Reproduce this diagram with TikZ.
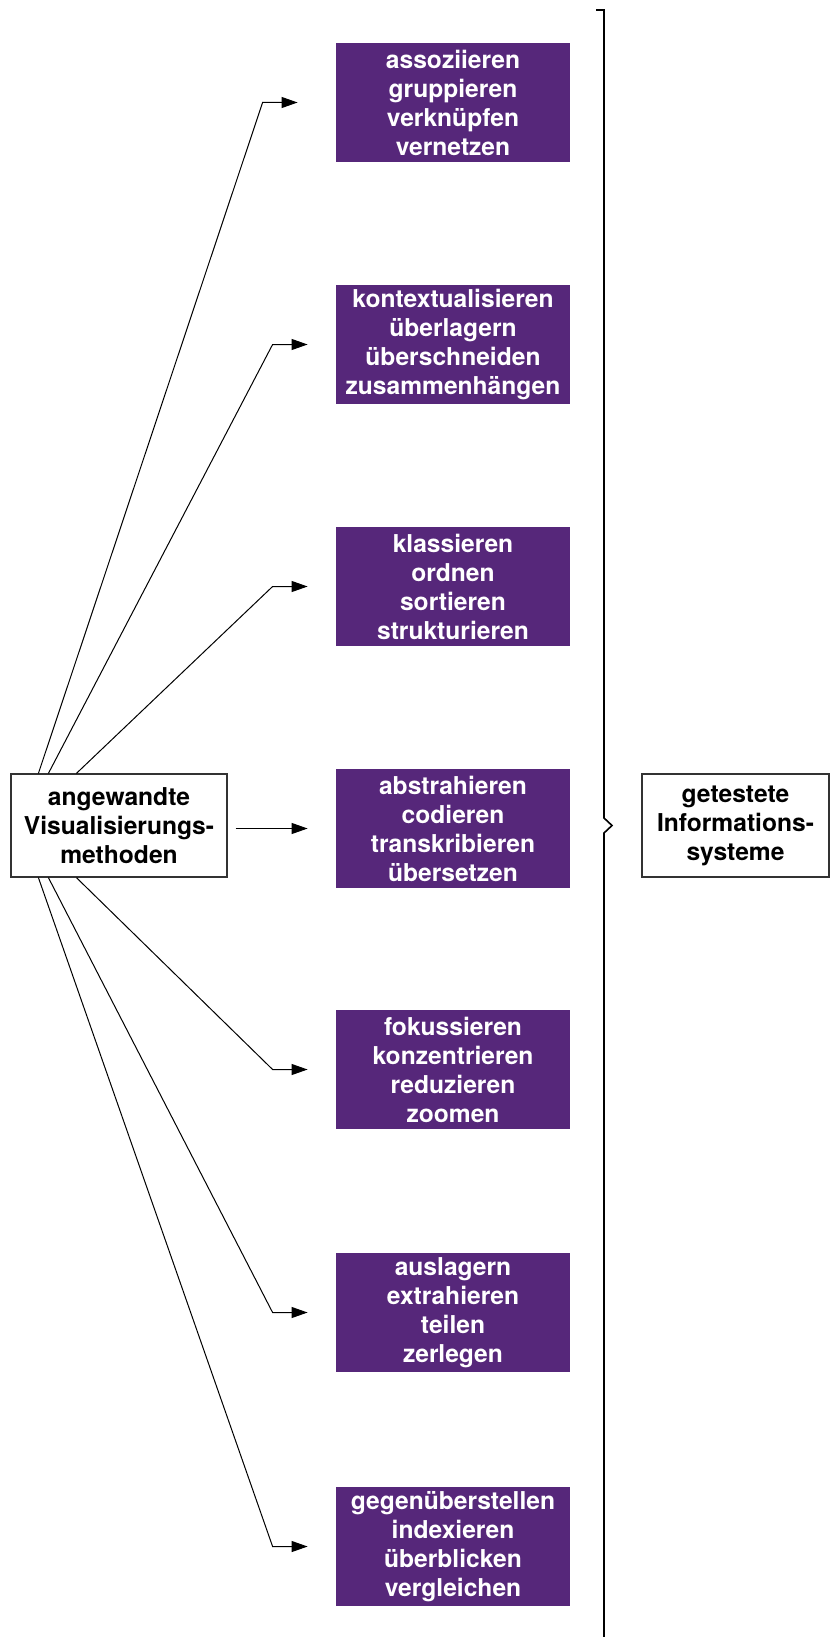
\documentclass[tikz,border=0pt]{standalone}
\usepackage{fontspec}
\setmainfont{TeX Gyre Heros}
\usetikzlibrary{arrows.meta}
\definecolor{methodpurple}{RGB}{86,39,122}
\tikzset{
  method/.style={fill=methodpurple, text=white, align=center,
    font=\bfseries\fontsize{12.3pt}{14.5pt}\selectfont,
    minimum width=117pt, minimum height=59.5pt, inner sep=0pt},
  system/.style={draw=black!80, line width=0.6pt, align=center,
    font=\bfseries\fontsize{12.3pt}{14.5pt}\selectfont,
    minimum height=51.5pt, inner sep=0pt},
  conn/.style={-{Triangle[length=8pt,width=5.5pt]}, line width=0.5pt}
}
\begin{document}
\begin{tikzpicture}[x=0.5pt,y=-0.5pt]
      \useasboundingbox (0,0) rectangle (834,1637);
      \draw
        (119,825.5) node[system, minimum width=108pt] (src) {angewandte\\Visualisierungs-\\methoden}
        (735.5,825.5) node[system, minimum width=93.5pt] (tgt) {getestete\\Informations-\\systeme}
        (453,102.5) node[method] (m1) {assoziieren\\gruppieren\\verknüpfen\\vernetzen}
        (453,344.5) node[method] (m2) {kontextualisieren\\überlagern\\überschneiden\\zusammenhängen}
        (453,586.5) node[method] (m3) {klassieren\\ordnen\\sortieren\\strukturieren}
        (453,828.5) node[method] (m4) {abstrahieren\\codieren\\transkribieren\\übersetzen}
        (453,1069.5) node[method] (m5) {fokussieren\\konzentrieren\\reduzieren\\zoomen}
        (453,1312.5) node[method] (m6) {auslagern\\extrahieren\\teilen\\zerlegen}
        (453,1546.5) node[method] (m7) {gegenüberstellen\\indexieren\\überblicken\\vergleichen};
      \begin{scope}[conn]
        \draw ([xshift=14pt]src.north west) -- ([xshift=-36.5pt]m1.west) -- ([xshift=-19pt]m1.west);
        \draw ([xshift=19pt]src.north west) -- ([xshift=-31.5pt]m2.west) -- ([xshift=-14pt]m2.west);
        \draw ([xshift=33pt]src.north west) -- ([xshift=-31.5pt]m3.west) -- ([xshift=-14pt]m3.west);
        \draw ([xshift=4pt]src.east |- m4.west) -- ([xshift=-14pt]m4.west);
        \draw ([xshift=33pt]src.south west) -- ([xshift=-31.5pt]m5.west) -- ([xshift=-14pt]m5.west);
        \draw ([xshift=19pt]src.south west) -- ([xshift=-31.5pt]m6.west) -- ([xshift=-14pt]m6.west);
        \draw ([xshift=14pt]src.south west) -- ([xshift=-31.5pt]m7.west) -- ([xshift=-14pt]m7.west);
      \end{scope}
      % brace towards the result
      \draw[line width=0.8pt] (596,10) -- (604,10) -- (604,818) -- (612,825.5) -- (604,833) -- (604,1637);
    \end{tikzpicture}
\end{document}
